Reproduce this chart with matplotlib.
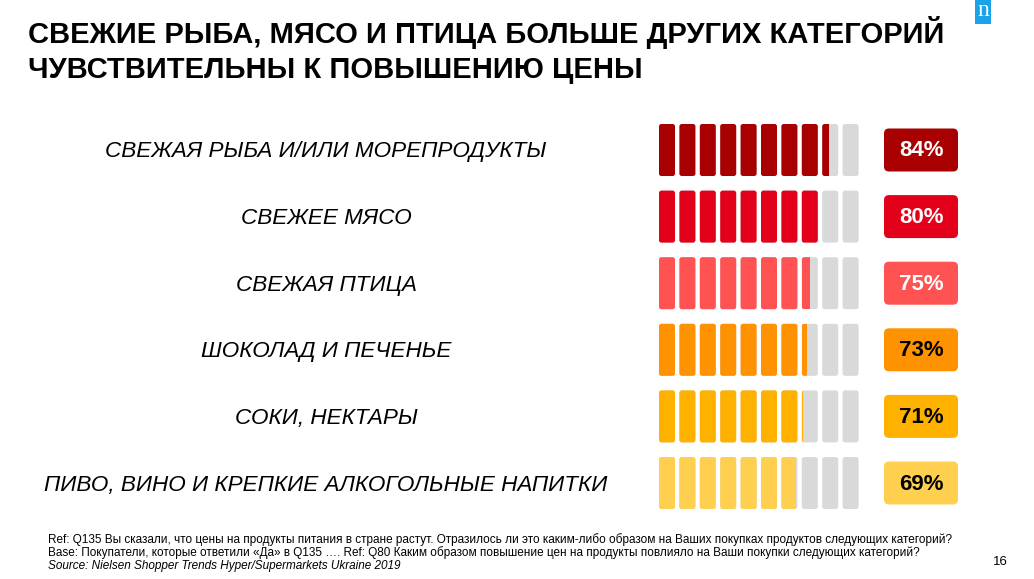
import numpy as np
import matplotlib.pyplot as plt
from matplotlib.patches import FancyBboxPatch, Rectangle

plt.rcParams['font.family'] = ['Liberation Sans', 'DejaVu Sans']

title = "СВЕЖИЕ РЫБА, МЯСО И ПТИЦА БОЛЬШЕ ДРУГИХ КАТЕГОРИЙ\nЧУВСТВИТЕЛЬНЫ К ПОВЫШЕНИЮ ЦЕНЫ"
categories = ["СВЕЖАЯ РЫБА И/ИЛИ МОРЕПРОДУКТЫ", "СВЕЖЕЕ МЯСО", "СВЕЖАЯ ПТИЦА",
              "ШОКОЛАД И ПЕЧЕНЬЕ", "СОКИ, НЕКТАРЫ",
              "ПИВО, ВИНО И КРЕПКИЕ АЛКОГОЛЬНЫЕ НАПИТКИ"]
values = [84, 80, 75, 73, 71, 69]
colors = ["#A80000", "#E2001A", "#FF5252", "#FF9200", "#FFB100", "#FFD04F"]
text_colors = ["white", "white", "white", "black", "black", "black"]
notes = [
    "Ref: Q135 Вы сказали, что цены на продукты питания в стране растут. Отразилось ли это каким-либо образом на Ваших покупках продуктов следующих категорий?",
    "Base: Покупатели, которые ответили «Да» в Q135 …. Ref: Q80 Каким образом повышение цен на продукты повлияло на Ваши покупки следующих категорий?",
]
source = "Source: Nielsen Shopper Trends Hyper/Supermarkets Ukraine 2019"
page = "16"

W, H = 1034, 579
fig = plt.figure(figsize=(W / 100, H / 100), dpi=100)
ax = fig.add_axes([0, 0, 1, 1])
ax.set_xlim(0, W)
ax.set_ylim(H, 0)
ax.axis('off')

ax.text(28, 50, title, fontsize=21, fontweight='bold', va='center', ha='left',
        linespacing=1.3, color='black')

# nielsen logo
ax.add_patch(Rectangle((975, 0), 16, 24, color='#1AA3E8', lw=0))
ax.text(983, 11, "n", fontsize=17, color='white', ha='center', va='center',
        family='Liberation Serif')

rows_y = np.linspace(150, 483, len(values))
seg_x0, seg_pitch, seg_w, seg_h = 659, 20.4, 16, 52
gray = "#D9D9D9"

for yc, cat, v, c, tc in zip(rows_y, categories, values, colors, text_colors):
    ax.text(326, yc + 2, cat, fontsize=16.2, style='italic', ha='center', va='center')
    for i in range(10):
        x = seg_x0 + i * seg_pitch
        frac = np.clip(v / 10 - i, 0, 1)
        ax.add_patch(FancyBboxPatch((x, yc - seg_h / 2), seg_w, seg_h,
                                    boxstyle="round,pad=0,rounding_size=2.5",
                                    fc=gray, ec='none'))
        if frac > 0:
            p = FancyBboxPatch((x, yc - seg_h / 2), seg_w, seg_h,
                               boxstyle="round,pad=0,rounding_size=2.5",
                               fc=c, ec='none')
            ax.add_patch(p)
            if frac < 1:
                clip = Rectangle((x, yc - seg_h / 2), seg_w * frac, seg_h,
                                 transform=ax.transData)
                p.set_clip_path(clip)
    ax.add_patch(FancyBboxPatch((884, yc - 21.5), 74, 43,
                                boxstyle="round,pad=0,rounding_size=5",
                                fc=c, ec='none'))
    ax.text(921, yc + 1, f"{v}%", fontsize=16, fontweight='bold', color=tc,
            ha='center', va='center')

ax.text(48, 540, notes[0], fontsize=8.5, va='center')
ax.text(48, 553, notes[1], fontsize=8.5, va='center')
ax.text(48, 566, source, fontsize=8.5, style='italic', va='center')
ax.text(1008, 562, page, fontsize=9.5, ha='right', va='center')

fig.savefig('out.png', dpi=100)
